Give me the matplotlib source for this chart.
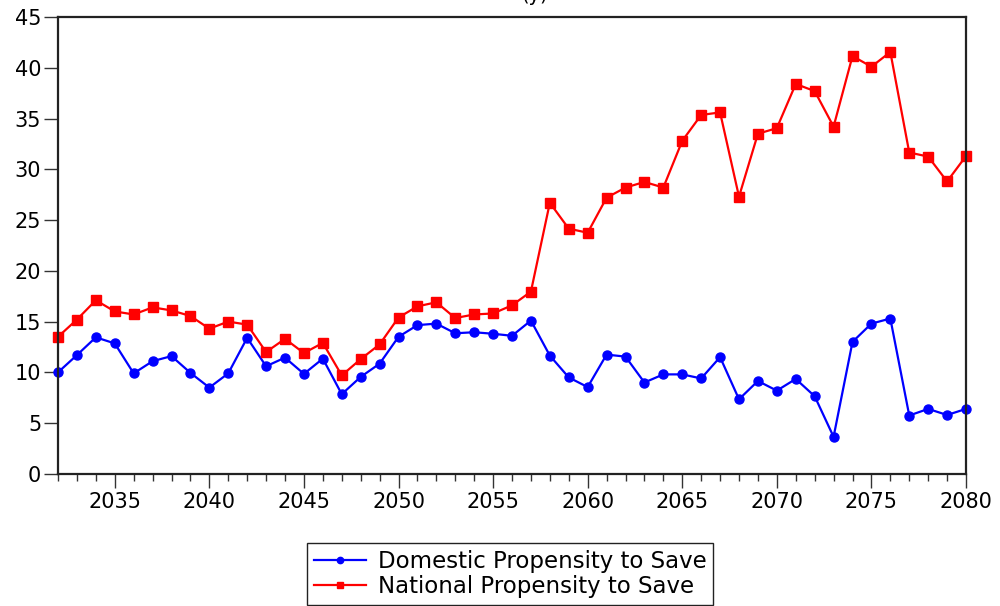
import numpy as np
import matplotlib
matplotlib.use("Agg")
import matplotlib.pyplot as plt
from matplotlib.ticker import MultipleLocator

plt.rcParams['font.family'] = ['DejaVu Sans']

years = np.arange(2032, 2081)

domestic = [10.0, 11.7, 13.45, 12.85, 9.9, 11.1, 11.6, 9.95, 8.5, 9.9,
            13.4, 10.6, 11.45, 9.85, 11.35, 7.85, 9.55, 10.85, 13.5, 14.65,
            14.8, 13.85, 13.95, 13.8, 13.6, 15.1, 11.65, 9.5, 8.55, 11.75,
            11.55, 9.0, 9.8, 9.8, 9.4, 11.5, 7.35, 9.15, 8.2, 9.35,
            7.65, 3.65, 13.0, 14.8, 15.3, 5.75, 6.4, 5.8, 6.4]

national = [13.5, 15.2, 17.1, 16.0, 15.7, 16.4, 16.1, 15.55, 14.3, 15.0,
            14.7, 12.0, 13.3, 11.9, 12.9, 9.7, 11.3, 12.75, 15.4, 16.5,
            16.9, 15.35, 15.7, 15.8, 16.6, 17.95, 26.7, 24.15, 23.75, 27.2,
            28.2, 28.75, 28.2, 32.8, 35.35, 35.6, 27.3, 33.5, 34.05, 38.4,
            37.7, 34.2, 41.15, 40.1, 41.55, 31.65, 31.25, 28.8, 31.3]

fig = plt.figure(figsize=(10, 6.06), dpi=100)
ax = fig.add_axes([0.058, 0.218, 0.908, 0.754])

ax.plot(years, domestic, color='#0000ff', marker='o', markersize=6.5, lw=1.6,
        label='Domestic Propensity to Save', clip_on=False)
ax.plot(years, national, color='#ff0000', marker='s', markersize=7, lw=1.6,
        label='National Propensity to Save', clip_on=False)

ax.set_xlim(2032, 2080)
ax.set_ylim(0, 45)
ax.xaxis.set_major_locator(MultipleLocator(5))
ax.xaxis.set_minor_locator(MultipleLocator(1))
ax.yaxis.set_major_locator(MultipleLocator(5))
ax.tick_params(axis='x', which='major', length=10, width=1, labelsize=15, pad=3, color='#333333')
ax.tick_params(axis='x', which='minor', length=5, width=1, color='#333333')
ax.tick_params(axis='y', which='major', length=10, width=1, labelsize=15, pad=2, color='#333333')
for s in ax.spines.values():
    s.set_linewidth(1.6)
    s.set_color('#222222')

# title is clipped at the top edge in the original, only its descenders show
fig.text(0.535, 1.008, '(y)', ha='center', va='center', fontsize=14)

fig.legend(loc='upper center', bbox_to_anchor=(0.51, 1 - 543 / 606), fontsize=16.5,
           frameon=True, fancybox=False, edgecolor='#222222', framealpha=1,
           handlelength=2.3, borderpad=0.3, labelspacing=0.1, handletextpad=0.5,
           borderaxespad=0, markerscale=0.7)

fig.savefig('out.png', dpi=100)
